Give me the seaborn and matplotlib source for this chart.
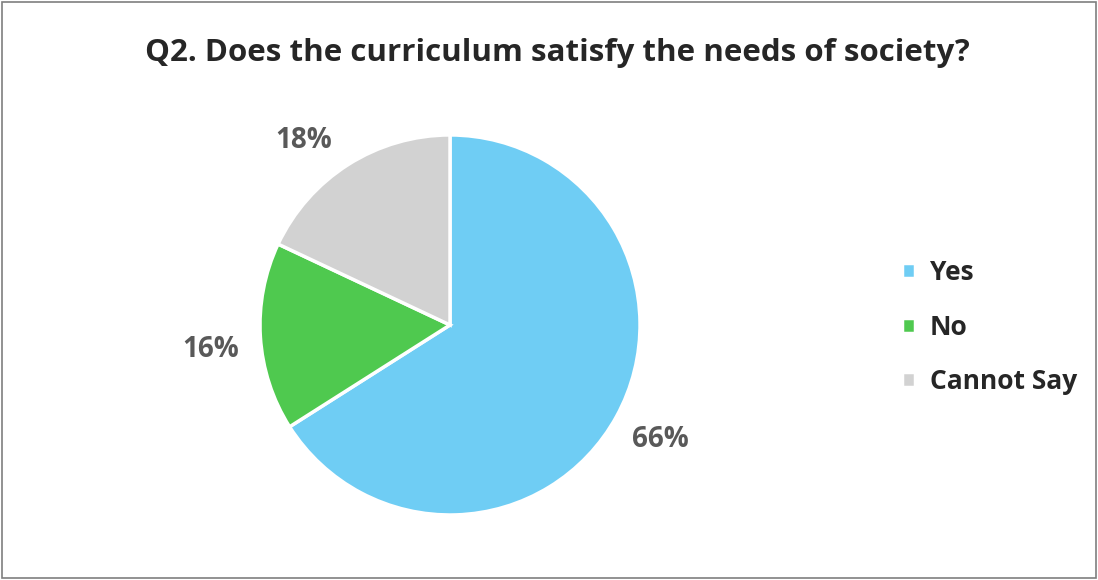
import matplotlib
matplotlib.use("Agg")
import matplotlib.pyplot as plt
import seaborn as sns
from matplotlib.patches import Rectangle

# Survey answers
labels = ["Yes", "No", "Cannot Say"]
shares = [66, 16, 18]
colors = ["#6fcdf4", "#4fc94f", "#d2d2d2"]

sns.set_theme(style="white")
plt.rcParams['font.family'] = ['Open Sans', 'DejaVu Sans']

fig = plt.figure(figsize=(10.98, 5.8), dpi=100)
fig.patch.set_facecolor("white")

# pie axes placed so the circle sits at the same spot as the reference
ax = fig.add_axes([0.2368, 0.1121, 0.3461, 0.6552])
wedges, texts, autotexts = ax.pie(
    shares, colors=colors, startangle=90, counterclock=False,
    autopct="%d%%", pctdistance=1.24, radius=1.0,
    wedgeprops=dict(edgecolor="white", linewidth=2.5),
)
# data label spots (best-fit placement like the original)
label_xy = [(1.105, -0.605), (-1.26, -0.13), (-0.77, 0.97)]
for t, xy in zip(autotexts, label_xy):
    t.set_position(xy)
    t.set_color("#595959")
    t.set_fontsize(20)
    t.set_fontweight("bold")
ax.set_xlim(-1, 1)
ax.set_ylim(-1, 1)
ax.set_aspect("equal")
ax.axis("off")

fig.suptitle("Q2. Does the curriculum satisfy the needs of society?",
             x=0.508, y=0.935, fontsize=22.5, fontweight="bold", color="#262626")

leg = fig.legend(wedges, labels, loc="center left", bbox_to_anchor=(0.8, 0.436),
                 frameon=False, handlelength=0.5, handleheight=0.5,
                 handletextpad=0.55, labelspacing=1.05,
                 prop=dict(size=19, weight="bold"))
for t in leg.get_texts():
    t.set_color("#262626")

fig.patches.append(Rectangle((0.002, 0.003), 0.996, 0.994, transform=fig.transFigure,
                             fill=False, edgecolor="#7f7f7f", linewidth=1.2))

fig.savefig("out.png", dpi=100)
